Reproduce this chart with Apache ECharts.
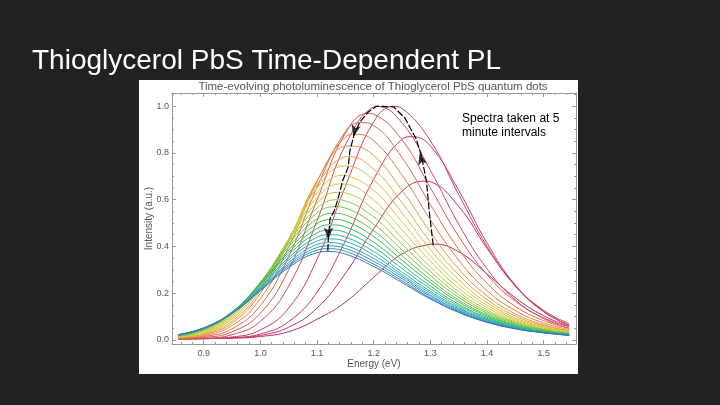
<!DOCTYPE html>
<html>
<head>
<meta charset="utf-8">
<title>Thioglycerol PbS Time-Dependent PL</title>
<script src="https://cdn.jsdelivr.net/npm/echarts@6/dist/echarts.min.js"></script>
<style>
  html, body { margin: 0; padding: 0; background: #222222; }
  #chart { width: 720px; height: 405px; }
</style>
</head>
<body>
<div id="chart"></div>
<script>
// energy grid (eV) shared by all spectra
const energy = [0.855, 0.9, 0.95, 1.0, 1.05, 1.1, 1.15, 1.2, 1.25, 1.3, 1.35, 1.4, 1.45, 1.5, 1.545];

// spectra, one every 5 minutes (normalised intensity on the grid above)
const t000 = [0.004, 0.005, 0.007, 0.014, 0.035, 0.088, 0.161, 0.268, 0.368, 0.409, 0.377, 0.282, 0.180, 0.103, 0.058];
const t005 = [0.004, 0.005, 0.008, 0.019, 0.054, 0.136, 0.284, 0.475, 0.636, 0.677, 0.571, 0.392, 0.230, 0.121, 0.063];
const t010 = [0.004, 0.005, 0.009, 0.025, 0.078, 0.204, 0.425, 0.688, 0.859, 0.830, 0.640, 0.414, 0.234, 0.120, 0.062];
const t015 = [0.004, 0.005, 0.012, 0.042, 0.136, 0.345, 0.657, 0.934, 0.991, 0.852, 0.622, 0.400, 0.233, 0.126, 0.070];
const t020 = [0.005, 0.007, 0.022, 0.079, 0.231, 0.510, 0.834, 0.998, 0.929, 0.726, 0.495, 0.304, 0.171, 0.091, 0.050];
const t025 = [0.005, 0.010, 0.034, 0.114, 0.301, 0.599, 0.885, 0.966, 0.856, 0.651, 0.443, 0.279, 0.165, 0.094, 0.056];
const t030 = [0.006, 0.014, 0.047, 0.147, 0.357, 0.653, 0.892, 0.918, 0.780, 0.579, 0.388, 0.242, 0.143, 0.082, 0.049];
const t035 = [0.007, 0.018, 0.061, 0.176, 0.397, 0.678, 0.868, 0.852, 0.705, 0.514, 0.341, 0.211, 0.125, 0.072, 0.044];
const t040 = [0.008, 0.022, 0.072, 0.199, 0.422, 0.681, 0.829, 0.789, 0.640, 0.461, 0.304, 0.188, 0.111, 0.064, 0.039];
const t045 = [0.009, 0.025, 0.080, 0.211, 0.426, 0.664, 0.784, 0.731, 0.587, 0.419, 0.279, 0.172, 0.102, 0.060, 0.037];
const t050 = [0.011, 0.029, 0.089, 0.224, 0.433, 0.650, 0.745, 0.684, 0.544, 0.387, 0.257, 0.159, 0.094, 0.055, 0.034];
const t055 = [0.012, 0.032, 0.096, 0.231, 0.432, 0.630, 0.704, 0.640, 0.505, 0.359, 0.238, 0.148, 0.088, 0.052, 0.032];
const t060 = [0.013, 0.036, 0.102, 0.238, 0.430, 0.609, 0.667, 0.598, 0.470, 0.337, 0.221, 0.138, 0.082, 0.049, 0.030];
const t065 = [0.015, 0.039, 0.108, 0.243, 0.426, 0.587, 0.629, 0.559, 0.437, 0.312, 0.206, 0.128, 0.077, 0.046, 0.029];
const t070 = [0.016, 0.042, 0.112, 0.245, 0.418, 0.564, 0.595, 0.526, 0.409, 0.293, 0.193, 0.121, 0.073, 0.044, 0.028];
const t075 = [0.017, 0.045, 0.116, 0.247, 0.410, 0.542, 0.564, 0.495, 0.384, 0.275, 0.182, 0.114, 0.069, 0.042, 0.027];
const t080 = [0.018, 0.047, 0.118, 0.245, 0.399, 0.519, 0.535, 0.467, 0.361, 0.258, 0.170, 0.107, 0.065, 0.039, 0.025];
const t085 = [0.018, 0.046, 0.117, 0.239, 0.385, 0.497, 0.508, 0.442, 0.341, 0.245, 0.162, 0.102, 0.062, 0.038, 0.024];
const t090 = [0.019, 0.048, 0.118, 0.237, 0.375, 0.477, 0.483, 0.418, 0.322, 0.230, 0.152, 0.096, 0.058, 0.035, 0.023];
const t095 = [0.021, 0.050, 0.120, 0.235, 0.365, 0.458, 0.460, 0.397, 0.305, 0.219, 0.145, 0.092, 0.056, 0.034, 0.022];
const t100 = [0.020, 0.049, 0.117, 0.228, 0.352, 0.439, 0.440, 0.378, 0.290, 0.208, 0.138, 0.087, 0.054, 0.033, 0.022];
const t105 = [0.021, 0.050, 0.117, 0.224, 0.342, 0.423, 0.422, 0.363, 0.279, 0.200, 0.133, 0.085, 0.052, 0.032, 0.021];
const t110 = [0.021, 0.049, 0.115, 0.218, 0.331, 0.408, 0.405, 0.348, 0.271, 0.192, 0.128, 0.081, 0.050, 0.031, 0.020];
const t115 = [0.022, 0.051, 0.115, 0.216, 0.323, 0.395, 0.391, 0.336, 0.262, 0.186, 0.124, 0.079, 0.049, 0.031, 0.020];
const t120 = [0.022, 0.050, 0.113, 0.212, 0.316, 0.384, 0.379, 0.324, 0.253, 0.179, 0.120, 0.076, 0.048, 0.030, 0.019];
const t125 = [0.022, 0.051, 0.114, 0.210, 0.309, 0.373, 0.367, 0.314, 0.245, 0.175, 0.117, 0.075, 0.047, 0.030, 0.019];

const spectra = [t000, t005, t010, t015, t020, t025, t030, t035, t040, t045, t050, t055, t060,
                 t065, t070, t075, t080, t085, t090, t095, t100, t105, t110, t115, t120, t125];

// peak of each spectrum
const peakEnergy = [1.305, 1.29, 1.268, 1.235, 1.205, 1.19, 1.178, 1.168, 1.16, 1.155, 1.15, 1.146, 1.142,
                    1.138, 1.135, 1.132, 1.13, 1.128, 1.126, 1.124, 1.123, 1.122, 1.121, 1.12, 1.119, 1.118];
const peakIntensity = [0.41, 0.68, 0.87, 1.0, 1.0, 0.97, 0.93, 0.88, 0.83, 0.785, 0.745, 0.705, 0.668,
                       0.632, 0.6, 0.57, 0.542, 0.516, 0.492, 0.47, 0.45, 0.432, 0.416, 0.402, 0.39, 0.378];

// hand-drawn black path following the peaks
const pathEnergy = [1.305, 1.298, 1.293, 1.284, 1.275, 1.255, 1.235, 1.205, 1.19, 1.175, 1.165, 1.158,
                    1.155, 1.145, 1.141, 1.136, 1.13, 1.123, 1.122, 1.12, 1.119];
const pathIntensity = [0.405, 0.55, 0.68, 0.79, 0.86, 0.95, 0.998, 1.0, 0.975, 0.93, 0.875, 0.81,
                       0.74, 0.68, 0.64, 0.595, 0.55, 0.52, 0.49, 0.44, 0.38];
const arrowEnergy = [1.281, 1.164, 1.12];
const arrowIntensity = [0.80, 0.87, 0.43];

const xTicks = [0.9, 1.0, 1.1, 1.2, 1.3, 1.4, 1.5];
const yTicks = [0.0, 0.2, 0.4, 0.6, 0.8, 1.0];

// styles
const colors = ['#b8306e', '#c0336a', '#c83a66', '#cc3f5e', '#d24a56', '#d8584c', '#de6a44', '#e27e3e',
                '#e4923a', '#e4a63a', '#e0b83a', '#dac63c', '#c8cc3c', '#b0cc3c', '#94c83e', '#76c440',
                '#58c044', '#40bc52', '#34b868', '#30b484', '#2eb09e', '#30acb6', '#32a2c6', '#3494c8',
                '#3684c0', '#3874b6'];
const arrowRotate = [15, 166, 180];
const font = '"Liberation Sans", Arial, sans-serif';
const frameGray = '#9a9a9a';
const xMin = 0.844, xMax = 1.557, yMin = -0.018, yMax = 1.057;

function minorTicks(from, to, step, majors) {
  const out = [];
  for (let v = from; v <= to + 1e-9; v += step) {
    const r = Math.round(v * 1000) / 1000;
    if (!majors.some(m => Math.abs(m - r) < 1e-6)) out.push(r);
  }
  return out;
}
const xMinor = minorTicks(0.86, 1.54, 0.02, xTicks);
const yMinor = minorTicks(0.0, 1.05, 0.05, yTicks);

function spectrumPoints(values, i) {
  const pts = energy.map((e, j) => [e, values[j]]);
  const pe = peakEnergy[i];
  if (!energy.some(e => Math.abs(e - pe) < 0.004)) {
    pts.push([pe, peakIntensity[i]]);
    pts.sort((a, b) => a[0] - b[0]);
  }
  return pts;
}

function frameAxis(pos, ticks, len, showLine) {
  const horiz = pos === 'top' || pos === 'bottom';
  return {
    type: 'value', position: pos,
    min: horiz ? xMin : yMin,
    max: horiz ? xMax : yMax,
    axisLine: { show: showLine, onZero: false, lineStyle: { color: frameGray, width: 1 } },
    axisTick: { show: true, inside: true, length: len, customValues: ticks, lineStyle: { color: frameGray } },
    axisLabel: { show: false },
    splitLine: { show: false }
  };
}

const series = spectra.map((vals, i) => ({
  type: 'line',
  data: spectrumPoints(vals, i),
  showSymbol: false,
  smooth: 0.45,
  silent: true,
  lineStyle: { color: colors[i], width: 1 },
  z: 2
}));

series.push({
  type: 'line',
  data: pathEnergy.map((e, i) => [e, pathIntensity[i]]),
  showSymbol: false,
  silent: true,
  lineStyle: { color: '#000', width: 1.2, type: [7, 2] },
  z: 5
});

series.push({
  type: 'scatter',
  data: arrowEnergy.map((e, i) => ({ value: [e, arrowIntensity[i]], symbolRotate: arrowRotate[i] })),
  symbol: 'arrow',
  symbolSize: [7, 12],
  silent: true,
  itemStyle: { color: '#000' },
  z: 6
});

const chart = echarts.init(document.getElementById('chart'));
chart.setOption({
  animation: false,
  backgroundColor: '#222222',
  grid: { left: 172, right: 144, top: 93, bottom: 61 },
  xAxis: [
    {
      type: 'value', position: 'bottom', min: xMin, max: xMax,
      axisLine: { show: true, onZero: false, lineStyle: { color: frameGray, width: 1 } },
      axisTick: { show: true, inside: true, length: 4, customValues: xTicks, lineStyle: { color: frameGray } },
      axisLabel: { show: true, customValues: xTicks, margin: 5, color: '#555', fontSize: 9, fontFamily: font,
                   formatter: v => v.toFixed(1) },
      splitLine: { show: false },
      name: 'Energy (eV)', nameLocation: 'middle', nameGap: 15, nameMoveOverlap: false,
      nameTextStyle: { color: '#555', fontSize: 10, fontFamily: font }
    },
    frameAxis('bottom', xMinor, 2, false),
    frameAxis('top', xTicks, 4, true),
    frameAxis('top', xMinor, 2, false)
  ],
  yAxis: [
    {
      type: 'value', position: 'left', min: yMin, max: yMax,
      axisLine: { show: true, onZero: false, lineStyle: { color: frameGray, width: 1 } },
      axisTick: { show: true, inside: true, length: 4, customValues: yTicks, lineStyle: { color: frameGray } },
      axisLabel: { show: true, customValues: yTicks, margin: 3, color: '#555', fontSize: 9, fontFamily: font,
                   formatter: v => v.toFixed(1) },
      splitLine: { show: false },
      name: 'Intensity (a.u.)', nameLocation: 'middle', nameGap: 18, nameMoveOverlap: false,
      nameTextStyle: { color: '#555', fontSize: 10, fontFamily: font }
    },
    frameAxis('left', yMinor, 2, false),
    frameAxis('right', yTicks, 4, true),
    frameAxis('right', yMinor, 2, false)
  ],
  graphic: [
    { type: 'rect', z: -10, silent: true, shape: { x: 139, y: 80, width: 439, height: 294 }, style: { fill: '#ffffff' } },
    { type: 'text', z: 100, silent: true, x: 32, y: 61,
      style: { text: 'Thioglycerol PbS Time-Dependent PL', fill: '#ffffff', font: '28px ' + font, textVerticalAlign: 'middle' } },
    { type: 'text', z: 100, silent: true, x: 373, y: 87,
      style: { text: 'Time-evolving photoluminescence of Thioglycerol PbS quantum dots', fill: '#555555',
               font: '11.5px ' + font, textAlign: 'center', textVerticalAlign: 'middle' } },
    { type: 'text', z: 100, silent: true, x: 462, y: 118.5,
      style: { text: 'Spectra taken at 5', fill: '#000000', font: '12px ' + font, textVerticalAlign: 'middle' } },
    { type: 'text', z: 100, silent: true, x: 462, y: 132.5,
      style: { text: 'minute intervals', fill: '#000000', font: '12px ' + font, textVerticalAlign: 'middle' } }
  ],
  series: series
});
</script>
</body>
</html>
